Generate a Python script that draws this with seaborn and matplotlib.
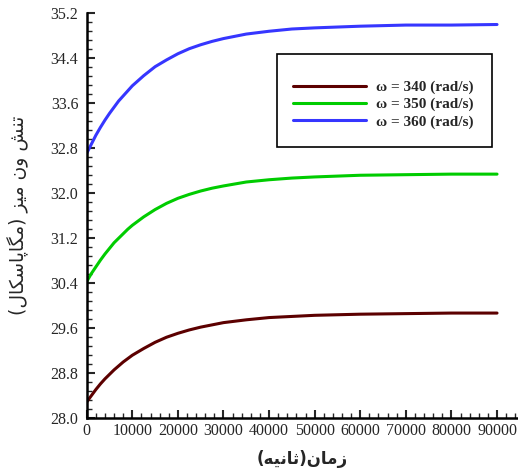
import pandas as pd
import matplotlib.pyplot as plt
import seaborn as sns
from matplotlib.patches import Rectangle
from matplotlib.ticker import MultipleLocator, FormatStrFormatter

# Data
time_s = [0, 1000, 2000, 3000, 4000, 5000, 6000, 7000, 8000, 9000, 10000,
          12500, 15000, 17500, 20000, 22500, 25000, 27500, 30000, 35000,
          40000, 45000, 50000, 60000, 70000, 80000, 90000]
stress_340 = [28.28, 28.39, 28.50, 28.60, 28.69, 28.77, 28.85, 28.92, 28.99, 29.05, 29.11,
              29.23, 29.34, 29.43, 29.50, 29.56, 29.61, 29.65, 29.69, 29.74,
              29.78, 29.80, 29.82, 29.84, 29.85, 29.86, 29.86]
stress_350 = [30.42, 30.56, 30.68, 30.80, 30.91, 31.01, 31.11, 31.19, 31.27, 31.35, 31.42,
              31.57, 31.70, 31.81, 31.90, 31.97, 32.03, 32.08, 32.12, 32.19,
              32.23, 32.26, 32.28, 32.31, 32.32, 32.33, 32.33]
stress_360 = [32.70, 32.86, 33.02, 33.16, 33.29, 33.41, 33.52, 33.63, 33.72, 33.81, 33.90,
              34.08, 34.24, 34.36, 34.47, 34.56, 34.63, 34.69, 34.74, 34.82,
              34.87, 34.91, 34.93, 34.96, 34.98, 34.98, 34.99]
labels = ['\u03c9 = 340 (rad/s)', '\u03c9 = 350 (rad/s)', '\u03c9 = 360 (rad/s)']
colors = ['#5c0000', '#00cc00', '#3636ff']
y_ticks = [28.0, 28.8, 29.6, 30.4, 31.2, 32.0, 32.8, 33.6, 34.4, 35.2]
x_ticks = list(range(0, 90001, 10000))

# Persian labels, pre-shaped (presentation forms, visual order)
xlabel_fa = '(' + '\uFEEA\uFBFF\uFEE7\uFE8E\uFE9B' + ')' + '\uFEE5\uFE8E\uFEE3\uFEAF'
ylabel_fa = ('(' + '\uFEDD\uFE8E\uFB91\uFEB3\uFE8E\uFB58\uFE8E\uFB95\uFEE3' + ')' + ' '
             + '\uFEB0\uFBFF\uFEE3' + ' ' + '\uFEE5\uFEED' + ' ' + '\uFEB6\uFEE8\uFE97')

sns.set_style("ticks")
plt.rcParams['font.family'] = ['Liberation Serif', 'DejaVu Sans']

n = len(time_s)
df = pd.DataFrame({'time': time_s * 3,
                   'stress': stress_340 + stress_350 + stress_360,
                   'omega': [labels[0]] * n + [labels[1]] * n + [labels[2]] * n})

fig = plt.figure(figsize=(5.18, 4.70), dpi=100)
ax = fig.add_axes([0.1674, 0.1113, 0.8326, 0.8617])

sns.lineplot(data=df, x='time', y='stress', hue='omega', palette=colors,
             linewidth=2.2, ax=ax, legend=False)

ax.set_xlim(0, 94600)
ax.set_ylim(28.0, 35.2)
ax.set_xticks(x_ticks)
ax.set_yticks(y_ticks)
ax.yaxis.set_major_formatter(FormatStrFormatter('%.1f'))
ax.xaxis.set_minor_locator(MultipleLocator(2000))
ax.yaxis.set_minor_locator(MultipleLocator(0.16))
ax.tick_params(which='major', direction='in', length=6, width=1.5, labelsize=11.5)
ax.tick_params(which='minor', direction='in', length=3.5, width=1)
ax.tick_params(axis='y', which='major', pad=6)
ax.tick_params(axis='x', which='major', pad=4)
for s in ['top', 'right']:
    ax.spines[s].set_visible(False)
for s in ['left', 'bottom']:
    ax.spines[s].set_linewidth(1.8)
    ax.spines[s].set_color('black')

ax.set_xlabel(xlabel_fa, fontsize=12, fontweight='bold', family=['DejaVu Sans'])
ax.set_ylabel(ylabel_fa, fontsize=13.5, family=['DejaVu Sans'])
ax.xaxis.set_label_coords(0.5, -0.08)
ax.yaxis.set_label_coords(-0.133, 0.5)

# legend box
ax.add_patch(Rectangle((0.442, 0.669), 0.497, 0.229, transform=ax.transAxes,
                       fill=False, edgecolor='black', linewidth=1.2, zorder=5))
handles = ax.get_lines()[:3]
ax.legend(handles, labels, loc='upper left', bbox_to_anchor=(0.478, 0.833),
          frameon=False, borderpad=0, borderaxespad=0, handlelength=4.8,
          handletextpad=0.65, labelspacing=0.22,
          prop={'family': 'Liberation Serif', 'weight': 'bold', 'size': 11})

plt.savefig('out.png', dpi=100)
